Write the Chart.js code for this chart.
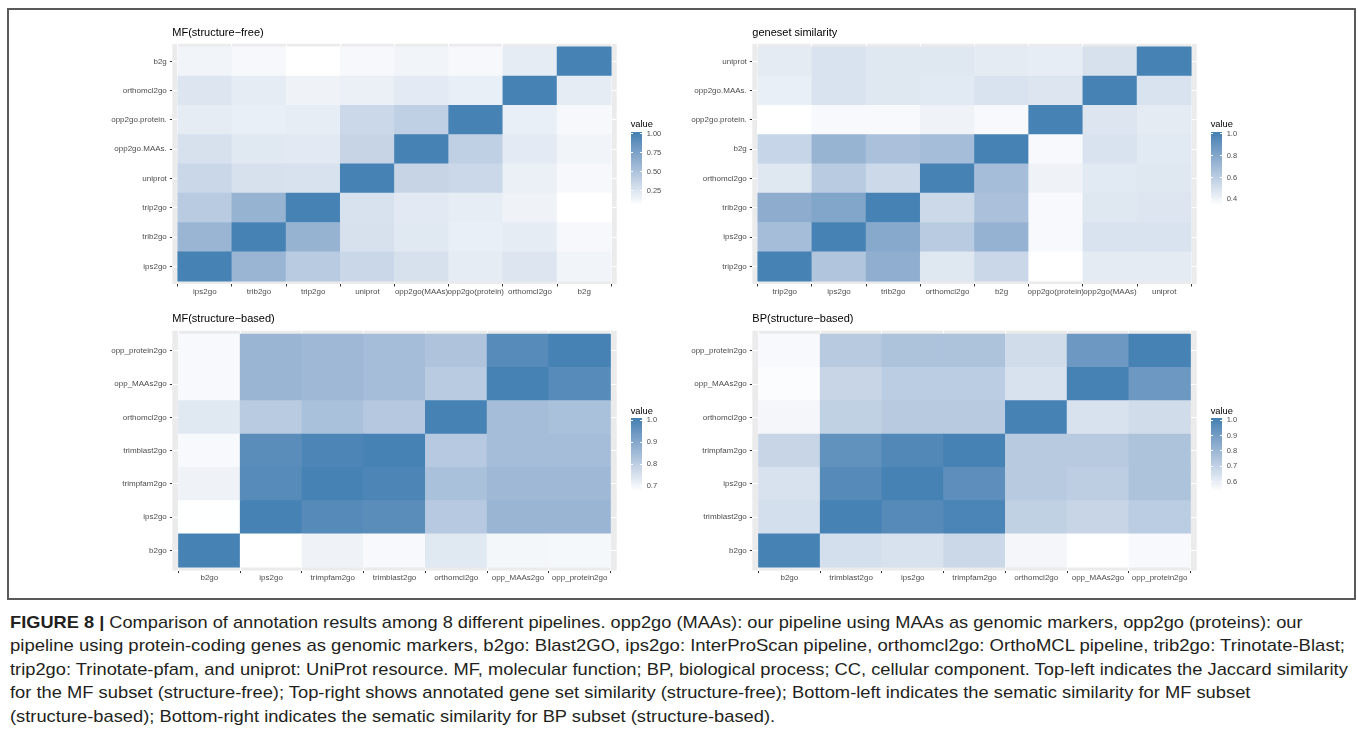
<!DOCTYPE html>
<html><head><meta charset="utf-8">
<script src="https://cdn.jsdelivr.net/npm/chart.js@4.4.1/dist/chart.umd.min.js"></script>
<style>
html,body{margin:0;padding:0;background:#fff;width:1358px;height:750px;overflow:hidden;font-family:"Liberation Sans",Arial,sans-serif;}
#frame{position:absolute;left:7px;top:8px;width:1349px;height:592px;border:2px solid #5a5a5a;box-sizing:border-box;}
canvas{position:absolute;}
.ptitle{position:absolute;font-size:11px;line-height:11px;color:#000;white-space:nowrap;}
.ltitle{position:absolute;font-size:9.3px;line-height:10px;color:#000;white-space:nowrap;}
.llab{position:absolute;font-size:7.5px;line-height:8px;color:#4d4d4d;white-space:nowrap;}
.bar{position:absolute;width:11.3px;height:75px;}
.tk{position:absolute;width:2.3px;height:1px;background:#fff;}
.cap{position:absolute;left:10px;width:3000px;font-size:17px;line-height:17px;color:#231f20;white-space:nowrap;transform-origin:0 0;}
.cap span{display:inline-block;white-space:nowrap;}
.cap b{font-weight:bold;}
</style></head>
<body>
<div id="frame"></div>
<canvas id="c1" width="625" height="300" style="left:0;top:0"></canvas>
<canvas id="c2" width="625" height="300" style="left:580px;top:0"></canvas>
<canvas id="c3" width="625" height="300" style="left:0;top:300px"></canvas>
<canvas id="c4" width="625" height="300" style="left:580px;top:300px"></canvas>
<div id="overlay"></div>
<div id="caption">
<div class="cap" style="top:613.7px" data-w="1292"><span><b>FIGURE 8 |</b> Comparison of annotation results among 8 different pipelines. opp2go (MAAs): our pipeline using MAAs as genomic markers, opp2go (proteins): our</span></div>
<div class="cap" style="top:637.2px" data-w="1335"><span>pipeline using protein-coding genes as genomic markers, b2go: Blast2GO, ips2go: InterProScan pipeline, orthomcl2go: OrthoMCL pipeline, trib2go: Trinotate-Blast;</span></div>
<div class="cap" style="top:660.7px" data-w="1338"><span>trip2go: Trinotate-pfam, and uniprot: UniProt resource. MF, molecular function; BP, biological process; CC, cellular component. Top-left indicates the Jaccard similarity</span></div>
<div class="cap" style="top:684.2px" data-w="1240"><span>for the MF subset (structure-free); Top-right shows annotated gene set similarity (structure-free); Bottom-left indicates the sematic similarity for MF subset</span></div>
<div class="cap" style="top:707.7px" data-w="765"><span>(structure-based); Bottom-right indicates the sematic similarity for BP subset (structure-based).</span></div>
</div>
<script>
// ---------------- DATA ----------------
// Panel 1: MF (structure-free) – Jaccard similarity
const mfFreeTitle = "MF(structure\u2212free)";
const mfFreeCols = ["ips2go","trib2go","trip2go","uniprot","opp2go(MAAs)","opp2go(protein)","orthomcl2go","b2g"];
const mfFreeRows = ["ips2go","trib2go","trip2go","uniprot","opp2go.MAAs.","opp2go.protein.","orthomcl2go","b2g"]; // bottom -> top
const mfFreeValues = [
  [1.00, 0.60, 0.44, 0.35, 0.28, 0.20, 0.25, 0.14],
  [0.60, 1.00, 0.62, 0.28, 0.23, 0.18, 0.20, 0.11],
  [0.44, 0.62, 1.00, 0.27, 0.22, 0.19, 0.15, 0.064],
  [0.35, 0.28, 0.27, 1.00, 0.37, 0.34, 0.17, 0.11],
  [0.28, 0.23, 0.22, 0.37, 1.00, 0.40, 0.21, 0.14],
  [0.20, 0.18, 0.19, 0.34, 0.40, 1.00, 0.18, 0.11],
  [0.25, 0.20, 0.15, 0.17, 0.21, 0.18, 1.00, 0.20],
  [0.14, 0.11, 0.064, 0.11, 0.14, 0.11, 0.20, 1.00]
];
const mfFreeBreaks = [0.25, 0.50, 0.75, 1.00];
const mfFreeBreakLabels = ["0.25","0.50","0.75","1.00"];

// Panel 2: geneset similarity
const genesetTitle = "geneset similarity";
const genesetCols = ["trip2go","ips2go","trib2go","orthomcl2go","b2g","opp2go(protein)","opp2go(MAAs)","uniprot"];
const genesetRows = ["trip2go","ips2go","trib2go","orthomcl2go","b2g","opp2go.protein.","opp2go.MAAs.","uniprot"];
const genesetValues = [
  [1.00, 0.64, 0.76, 0.47, 0.55, 0.35, 0.45, 0.45],
  [0.68, 1.00, 0.79, 0.61, 0.74, 0.38, 0.49, 0.49],
  [0.77, 0.81, 1.00, 0.54, 0.66, 0.38, 0.47, 0.48],
  [0.47, 0.61, 0.54, 1.00, 0.68, 0.41, 0.46, 0.47],
  [0.56, 0.73, 0.66, 0.68, 1.00, 0.38, 0.49, 0.46],
  [0.35, 0.38, 0.38, 0.41, 0.38, 1.00, 0.48, 0.45],
  [0.43, 0.49, 0.47, 0.46, 0.49, 0.48, 1.00, 0.49],
  [0.45, 0.49, 0.47, 0.47, 0.45, 0.44, 0.50, 1.00]
];
const genesetBreaks = [0.4, 0.6, 0.8, 1.0];
const genesetBreakLabels = ["0.4","0.6","0.8","1.0"];

// Panel 3: MF (structure-based)
const mfBasedTitle = "MF(structure\u2212based)";
const mfBasedCols = ["b2go","ips2go","trimpfam2go","trimblast2go","orthomcl2go","opp_MAAs2go","opp_protein2go"];
const mfBasedRows = ["b2go","ips2go","trimpfam2go","trimblast2go","orthomcl2go","opp_MAAs2go","opp_protein2go"];
const mfBasedValues = [
  [1.000, 0.675, 0.704, 0.689, 0.733, 0.695, 0.693],
  [0.676, 1.000, 0.978, 0.969, 0.809, 0.861, 0.861],
  [0.704, 0.975, 1.000, 0.990, 0.832, 0.853, 0.853],
  [0.689, 0.969, 0.990, 1.000, 0.809, 0.842, 0.842],
  [0.733, 0.806, 0.832, 0.813, 1.000, 0.842, 0.832],
  [0.689, 0.861, 0.853, 0.842, 0.806, 1.000, 0.975],
  [0.689, 0.861, 0.853, 0.842, 0.824, 0.975, 1.000]
];
const mfBasedBreaks = [0.7, 0.8, 0.9, 1.0];
const mfBasedBreakLabels = ["0.7","0.8","0.9","1.0"];

// Panel 4: BP (structure-based)
const bpBasedTitle = "BP(structure\u2212based)";
const bpBasedCols = ["b2go","trimblast2go","ips2go","trimpfam2go","orthomcl2go","opp_MAAs2go","opp_protein2go"];
const bpBasedRows = ["b2go","trimblast2go","ips2go","trimpfam2go","orthomcl2go","opp_MAAs2go","opp_protein2go"];
const bpBasedValues = [
  [1.000, 0.648, 0.638, 0.674, 0.565, 0.535, 0.555],
  [0.648, 1.000, 0.970, 0.990, 0.700, 0.684, 0.715],
  [0.638, 0.970, 1.000, 0.950, 0.725, 0.710, 0.751],
  [0.684, 0.942, 0.977, 1.000, 0.725, 0.725, 0.751],
  [0.565, 0.700, 0.725, 0.725, 1.000, 0.638, 0.658],
  [0.545, 0.684, 0.715, 0.715, 0.638, 1.000, 0.915],
  [0.555, 0.725, 0.751, 0.751, 0.658, 0.915, 1.000]
];
const bpBasedBreaks = [0.6, 0.7, 0.8, 0.9, 1.0];
const bpBasedBreakLabels = ["0.6","0.7","0.8","0.9","1.0"];

// ---------------- COLOUR (white -> steelblue, Lab interpolation like ggplot) ----------------
function s2l(c){c/=255;return c<=0.04045?c/12.92:Math.pow((c+0.055)/1.055,2.4);}
function l2s(c){c=c<=0.0031308?12.92*c:1.055*Math.pow(c,1/2.4)-0.055;return Math.round(Math.max(0,Math.min(1,c))*255);}
function rgbToLab(rgb){const R=s2l(rgb[0]),G=s2l(rgb[1]),B=s2l(rgb[2]);
  const X=(0.4124564*R+0.3575761*G+0.1804375*B)/0.95047,Y=0.2126729*R+0.7151522*G+0.0721750*B,Z=(0.0193339*R+0.1191920*G+0.9503041*B)/1.08883;
  const f=t=>t>0.008856?Math.cbrt(t):(7.787*t+16/116);const fx=f(X),fy=f(Y),fz=f(Z);
  return [116*fy-16,500*(fx-fy),200*(fy-fz)];}
function labToRgb(lab){const fy=(lab[0]+16)/116,fx=fy+lab[1]/500,fz=fy-lab[2]/200;
  const inv=t=>{const t3=t*t*t;return t3>0.008856?t3:(t-16/116)/7.787;};
  const X=inv(fx)*0.95047,Y=inv(fy),Z=inv(fz)*1.08883;
  return [l2s(3.2404542*X-1.5371385*Y-0.4985314*Z),l2s(-0.9692660*X+1.8760108*Y+0.0415560*Z),l2s(0.0556434*X-0.2040259*Y+1.0572252*Z)];}
const LAB_LO=rgbToLab([255,255,255]), LAB_HI=rgbToLab([70,130,180]);
function ramp(t){t=Math.max(0,Math.min(1,t));const c=labToRgb(LAB_LO.map((v,i)=>v+(LAB_HI[i]-v)*t));return "rgb("+c[0]+","+c[1]+","+c[2]+")";}

Chart.defaults.font.family = "'Liberation Sans', Arial, sans-serif";

const panelBg = {
  id:'panelBg',
  beforeDraw(chart){const a=chart.chartArea,ctx=chart.ctx;ctx.save();ctx.fillStyle='#EBEBEB';ctx.fillRect(a.left,a.top,a.right-a.left,a.bottom-a.top);ctx.restore();}
};

function heatmap(id, cols, rows, values, box, W, H){
  const flat=values.flat(), vmin=Math.min(...flat), vmax=Math.max(...flat);
  const datasets = values.map((row,r)=>({
    data: row.map((v,c)=>({x:c, y:[r-0.5, r+0.5]})),
    backgroundColor: row.map(v=>ramp((v-vmin)/(vmax-vmin))),
    borderWidth:0, barPercentage:1, categoryPercentage:1, grouped:false
  }));
  const tickFont={size:8, family:"'Liberation Sans', Arial, sans-serif"};
  new Chart(document.getElementById(id), {
    type:'bar',
    data:{datasets},
    options:{
      responsive:false, animation:false, events:[],
      layout:{padding:{top:box.top, right:W-box.right, left:0, bottom:0}},
      plugins:{legend:{display:false}, tooltip:{enabled:false}, title:{display:false}},
      scales:{
        x:{type:'linear', min:-0.6, max:cols.length-0.4, offset:false,
          afterBuildTicks:s=>{s.ticks=cols.map((_,i)=>({value:i}));},
          afterFit:s=>{s.height=H-box.bottom;},
          ticks:{autoSkip:false, maxRotation:0, minRotation:0, padding:0, color:'#4D4D4D', font:tickFont, callback:(v,i)=>cols[i]},
          grid:{color:'#FFFFFF', lineWidth:1, tickColor:'#333333', tickLength:2.5, tickWidth:1},
          border:{display:false}},
        y:{type:'linear', min:-0.6, max:rows.length-0.4,
          afterBuildTicks:s=>{s.ticks=rows.map((_,i)=>({value:i}));},
          afterFit:s=>{s.width=box.left;},
          ticks:{autoSkip:false, padding:3, color:'#4D4D4D', font:tickFont, callback:(v,i)=>rows[i]},
          grid:{color:'#FFFFFF', lineWidth:1, tickColor:'#333333', tickLength:2.5, tickWidth:1},
          border:{display:false}}
      }
    },
    plugins:[panelBg]
  });
  return [vmin,vmax];
}

const ov=document.getElementById('overlay');
function addDiv(cls, css, text){const d=document.createElement('div');d.className=cls;Object.assign(d.style,css);if(text!==undefined)d.textContent=text;ov.appendChild(d);return d;}

function legend(left, barTop, vmin, vmax, breaks, labels){
  addDiv('ltitle',{left:left+'px',top:(barTop-12.3)+'px'},'value');
  const stops=[];for(let k=0;k<=20;k++){const t=k/20;stops.push(ramp(t)+' '+(2.5+95*t).toFixed(2)+'%');}
  addDiv('bar',{left:left+'px',top:barTop+'px',background:'linear-gradient(to top,'+stops.join(',')+')'});
  breaks.forEach((b,i)=>{
    const f=0.025+0.95*(b-vmin)/(vmax-vmin);const y=barTop+75*(1-f);
    addDiv('tk',{left:left+'px',top:(y-0.5)+'px'});
    addDiv('tk',{left:(left+11.3-2.3)+'px',top:(y-0.5)+'px'});
    addDiv('llab',{left:(left+16)+'px',top:(y-3.9)+'px'},labels[i]);
  });
}

const W=625,H=300;
const r1=heatmap('c1',mfFreeCols,mfFreeRows,mfFreeValues,{left:172.3,right:616.7,top:43.8,bottom:284},W,H);
const r2=heatmap('c2',genesetCols,genesetRows,genesetValues,{left:172.3,right:616.7,top:43.8,bottom:284},W,H);
const r3=heatmap('c3',mfBasedCols,mfBasedRows,mfBasedValues,{left:172.3,right:616.7,top:30.7,bottom:270.6},W,H);
const r4=heatmap('c4',bpBasedCols,bpBasedRows,bpBasedValues,{left:172.3,right:616.7,top:30.7,bottom:270.6},W,H);

addDiv('ptitle',{left:'172.3px',top:'26.7px'},mfFreeTitle);
addDiv('ptitle',{left:'752.3px',top:'26.7px'},genesetTitle);
addDiv('ptitle',{left:'172.3px',top:'313.4px'},mfBasedTitle);
addDiv('ptitle',{left:'752.3px',top:'313.4px'},bpBasedTitle);

legend(630.7,131.7,r1[0],r1[1],mfFreeBreaks,mfFreeBreakLabels);
legend(1210.7,131.7,r2[0],r2[1],genesetBreaks,genesetBreakLabels);
legend(630.7,418.3,r3[0],r3[1],mfBasedBreaks,mfBasedBreakLabels);
legend(1210.7,418.3,r4[0],r4[1],bpBasedBreaks,bpBasedBreakLabels);

// caption: fit each line to the measured width of the reference
function fitCaption(){
  document.querySelectorAll('.cap').forEach(el=>{
    const span=el.querySelector('span');
    const w=span.offsetWidth;const target=+el.dataset.w;
    if(w>0) el.style.transform='scaleX('+(target/w)+')';
  });
}
fitCaption();
if(document.fonts && document.fonts.ready){document.fonts.ready.then(fitCaption);}
window.addEventListener('load',fitCaption);
</script>
</body></html>
